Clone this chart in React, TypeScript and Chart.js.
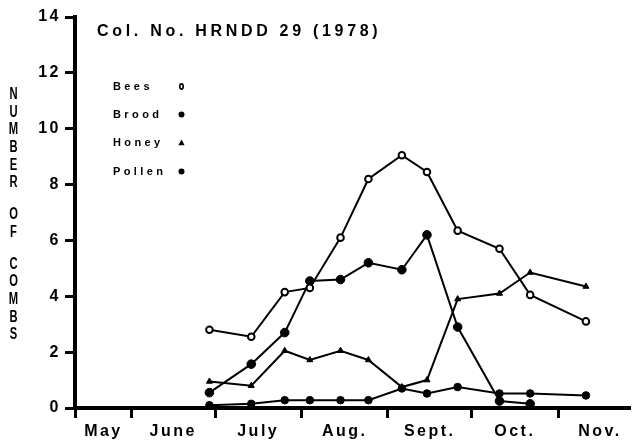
import React, { useEffect, useRef } from "react";
import { Chart, registerables } from "chart.js";

Chart.register(...registerables);

// ---- data ----
const chartTitle = "Col. No. HRNDD 29 (1978)";
const axisTitleWords = ["NUMBER", "OF", "COMBS"];
const seriesNames = ["Bees", "Brood", "Honey", "Pollen"];

// sampling dates, as day numbers counted from 1 May 1978 (1 May = 0)
const sampleDays = [59, 74, 86, 95, 106, 116, 128, 137, 148, 163, 174, 194];
const bees = [2.8, 2.55, 4.15, 4.3, 6.1, 8.2, 9.05, 8.45, 6.35, 5.7, 4.05, 3.1];
const brood = [0.55, 1.57, 2.7, 4.55, 4.6, 5.2, 4.95, 6.2, 2.9, 0.25, 0.15];
const honey = [0.95, 0.8, 2.05, 1.72, 2.05, 1.72, 0.75, 1.0, 3.9, 4.1, 4.85, 4.35];
const pollen = [0.1, 0.15, 0.28, 0.28, 0.28, 0.28, 0.7, 0.52, 0.75, 0.52, 0.52, 0.45];

const monthLabels = ["May", "June", "July", "Aug.", "Sept.", "Oct.", "Nov."];
const monthLabelDays = [21, 46, 76.5, 107.5, 138, 168.5, 199];
const monthTickDays = [10.8, 31, 61, 92, 123, 153, 184];
const xMin = 10.8;
const xMax = 209.8;
const yMin = 0;
const yMax = 14;
const yStep = 2;

const FONT = "'Liberation Sans', Arial, Helvetica, sans-serif";

function toPoints(values: number[]) {
  return values.map((v, i) => ({ x: sampleDays[i], y: v }));
}

function Marker({ kind }: { kind: number }) {
  let shape;
  if (kind === 0) shape = <ellipse cx={4.5} cy={4.5} rx={1.7} ry={2.6} fill="#fff" stroke="#000" strokeWidth={1.6} />;
  else if (kind === 2) shape = <polygon points="4.5,1.5 7.6,7.2 1.4,7.2" fill="#000" />;
  else shape = <circle cx={4.5} cy={4.5} r={3} fill="#000" />;
  return (
    <svg width={9} height={9} style={{ display: "block" }}>
      {shape}
    </svg>
  );
}

export default function App() {
  const canvasRef = useRef<HTMLCanvasElement | null>(null);

  useEffect(() => {
    document.body.style.margin = "0";
    const canvas = canvasRef.current;
    if (!canvas) return;

    const allXTicks = [...monthTickDays, ...monthLabelDays].sort((a, b) => a - b);
    const isBoundary = (v: number) => monthTickDays.indexOf(v) >= 0;

    const common = { borderColor: "#000", borderWidth: 2, tension: 0, fill: false };

    const chart = new Chart(canvas, {
      type: "line",
      data: {
        datasets: [
          {
            ...common,
            label: seriesNames[0],
            data: toPoints(bees),
            pointStyle: "circle",
            pointRadius: 3.3,
            pointBackgroundColor: "#fff",
            pointBorderColor: "#000",
            pointBorderWidth: 2,
          },
          {
            ...common,
            label: seriesNames[1],
            data: toPoints(brood),
            pointStyle: "circle",
            pointRadius: 4.3,
            pointBackgroundColor: "#000",
            pointBorderColor: "#000",
            pointBorderWidth: 1,
          },
          {
            ...common,
            label: seriesNames[2],
            data: toPoints(honey),
            pointStyle: "triangle",
            pointRadius: 3.5,
            pointBackgroundColor: "#000",
            pointBorderColor: "#000",
            pointBorderWidth: 1,
          },
          {
            ...common,
            label: seriesNames[3],
            data: toPoints(pollen),
            pointStyle: "circle",
            pointRadius: 3.8,
            pointBackgroundColor: "#000",
            pointBorderColor: "#000",
            pointBorderWidth: 1,
          },
        ],
      },
      options: {
        animation: false,
        responsive: false,
        maintainAspectRatio: false,
        devicePixelRatio: 1,
        events: [],
        layout: { padding: { left: 0, right: 0, top: 17, bottom: 0 } },
        plugins: {
          legend: { display: false },
          tooltip: { enabled: false },
          title: { display: false },
        },
        scales: {
          x: {
            type: "linear",
            min: xMin,
            max: xMax,
            afterBuildTicks: (s: any) => {
              s.ticks = allXTicks.map((v) => ({ value: v }));
            },
            afterFit: (s: any) => {
              s.height = 33;
            },
            ticks: {
              autoSkip: false,
              maxRotation: 0,
              minRotation: 0,
              padding: 4,
              color: "#000",
              font: { family: FONT, size: 16, weight: "bold" },
              callback: (value: any) => {
                const idx = monthLabelDays.indexOf(Number(value));
                return idx >= 0 ? monthLabels[idx] : "";
              },
            },
            grid: {
              drawOnChartArea: false,
              drawTicks: true,
              tickLength: 10,
              tickWidth: (ctx: any) => (ctx.tick && isBoundary(ctx.tick.value) ? 3 : 0),
              tickColor: (ctx: any) => (ctx.tick && isBoundary(ctx.tick.value) ? "#000" : "rgba(0,0,0,0)"),
            },
            border: { display: true, width: 4, color: "#000" },
          },
          y: {
            type: "linear",
            min: yMin,
            max: yMax,
            afterFit: (s: any) => {
              s.width = 75;
            },
            ticks: {
              stepSize: yStep,
              padding: 4,
              color: "#000",
              font: { family: FONT, size: 16, weight: "bold" },
            },
            grid: {
              drawOnChartArea: false,
              drawTicks: true,
              tickLength: 10,
              tickWidth: 3,
              tickColor: "#000",
            },
            border: { display: true, width: 4, color: "#000" },
          },
        },
      },
      plugins: [
        {
          id: "letterSpacing",
          beforeDraw(c: any) {
            c.ctx.letterSpacing = "2.5px";
          },
        },
      ],
    } as any);

    return () => {
      chart.destroy();
    };
  }, []);

  const textBase: React.CSSProperties = {
    position: "absolute",
    fontFamily: FONT,
    fontWeight: "bold",
    color: "#000",
    whiteSpace: "nowrap",
  };

  return (
    <div style={{ position: "relative", width: 636, height: 441, background: "#fff" }}>
      <canvas ref={canvasRef} width={636} height={441} style={{ display: "block", width: 636, height: 441 }} />
      {/* in-plot title */}
      <div style={{ ...textBase, left: 97, top: 23, fontSize: 16, lineHeight: "16px", letterSpacing: "3.7px" }}>
        {chartTitle}
      </div>
      {/* legend */}
      {seriesNames.map((name, i) => (
        <React.Fragment key={name}>
          <div
            style={{
              ...textBase,
              left: 113,
              top: 80.5 + i * 28.4,
              fontSize: 11,
              lineHeight: "11px",
              letterSpacing: "3.4px",
            }}
          >
            {name}
          </div>
          <div style={{ position: "absolute", left: 177, top: 81.5 + i * 28.4 }}>
            <Marker kind={i} />
          </div>
        </React.Fragment>
      ))}
      {/* stacked y-axis title */}
      <div style={{ ...textBase, left: 6, top: 85, width: 15, textAlign: "center", fontSize: 16 }}>
        {axisTitleWords.map((word, wi) => (
          <div key={wi} style={{ marginTop: wi === 0 ? 0 : 14 }}>
            {word.split("").map((ch, ci) => (
              <div key={ci} style={{ height: 17.7, lineHeight: "17.7px", transform: "scaleX(0.7)" }}>
                {ch}
              </div>
            ))}
          </div>
        ))}
      </div>
    </div>
  );
}
